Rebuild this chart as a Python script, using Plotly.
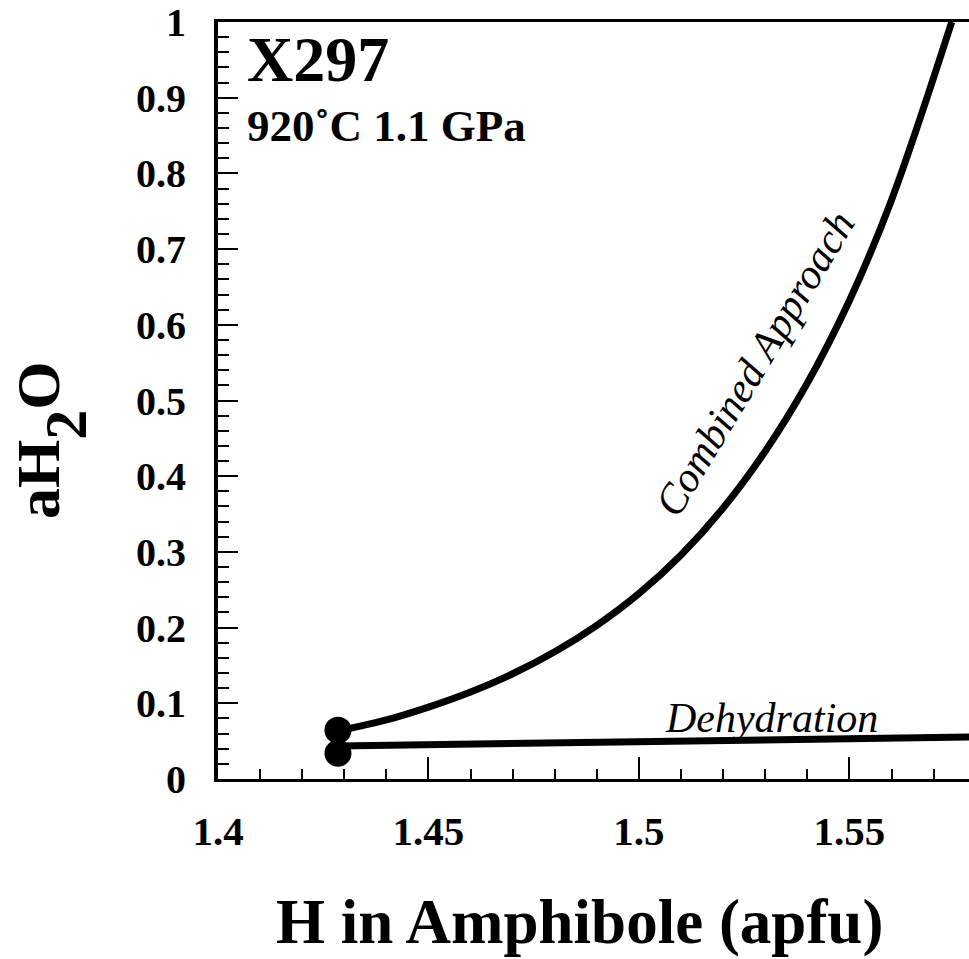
import plotly.graph_objects as go

# Data
combined_x = [1.4285, 1.4400, 1.4500, 1.4600, 1.4700, 1.4800, 1.4900, 1.5000, 1.5100,
              1.5200, 1.5300, 1.5400, 1.5500, 1.5600, 1.5743]
combined_y = [0.0634, 0.0780, 0.0950, 0.1150, 0.1390, 0.1680, 0.2030, 0.2450, 0.2960,
              0.3580, 0.4330, 0.5230, 0.6320, 0.7650, 1.0000]

dehyd_x = [1.4285, 1.4700, 1.5000, 1.5500, 1.5800]
dehyd_y = [0.0436, 0.0470, 0.0490, 0.0530, 0.0557]

dots_x = [1.4285, 1.4285]
dots_y = [0.0645, 0.0340]

x_ticks = [1.4, 1.45, 1.5, 1.55]
x_ticklabels = ["1.4", "1.45", "1.5", "1.55"]
y_ticks = [0, 0.1, 0.2, 0.3, 0.4, 0.5, 0.6, 0.7, 0.8, 0.9, 1.0]
y_ticklabels = ["0", "0.1", "0.2", "0.3", "0.4", "0.5", "0.6", "0.7", "0.8", "0.9", "1"]

SERIF = "Liberation Serif, Times New Roman, serif"

fig = go.Figure()
fig.add_trace(go.Scatter(x=combined_x, y=combined_y, mode="lines",
                         line=dict(color="black", width=7, shape="spline", smoothing=1.0),
                         showlegend=False, hoverinfo="skip"))
fig.add_trace(go.Scatter(x=dehyd_x, y=dehyd_y, mode="lines",
                         line=dict(color="black", width=7),
                         showlegend=False, hoverinfo="skip"))
fig.add_trace(go.Scatter(x=dots_x, y=dots_y, mode="markers",
                         marker=dict(color="black", size=27, symbol="circle"),
                         showlegend=False, hoverinfo="skip", cliponaxis=False))

# In-plot labels
fig.add_annotation(x=0.036, y=0.951, xref="paper", yref="paper",
                   xanchor="left", yanchor="middle", showarrow=False,
                   text="<b>X297</b>", font=dict(family=SERIF, size=64, color="black"))
fig.add_annotation(x=0.036, y=0.862, xref="paper", yref="paper",
                   xanchor="left", yanchor="middle", showarrow=False,
                   text="<b>920˚C 1.1 GPa</b>", font=dict(family=SERIF, size=45, color="black"))
fig.add_annotation(x=1.5275, y=0.548, xref="x", yref="y", showarrow=False,
                   text="<i>Combined Approach</i>", textangle=-59,
                   font=dict(family=SERIF, size=42, color="black"))
fig.add_annotation(x=1.5315, y=0.081, xref="x", yref="y", showarrow=False,
                   text="<i>Dehydration</i>",
                   font=dict(family=SERIF, size=42, color="black"))

# Axis titles
fig.add_annotation(x=0.482, y=-0.189, xref="paper", yref="paper",
                   xanchor="center", yanchor="middle", showarrow=False, borderpad=0,
                   text="<b>H in Amphibole (apfu)</b>", font=dict(family=SERIF, size=63, color="black"))
fig.add_annotation(x=-0.222, y=0.447, xref="paper", yref="paper",
                   xanchor="center", yanchor="middle", showarrow=False, textangle=-90, borderpad=0,
                   text="<b>aH<span style='baseline-shift:-0.45em;font-size:60px'>2</span>O</b>",
                   font=dict(family=SERIF, size=62, color="black"))

fig.update_layout(
    width=969, height=959,
    margin=dict(l=218, r=0, t=22, b=180),
    paper_bgcolor="white", plot_bgcolor="white",
    font=dict(family=SERIF, color="black"),
)
fig.update_xaxes(
    range=[1.4, 1.5784], showgrid=False, zeroline=False,
    showline=True, linecolor="black", linewidth=3, mirror=True,
    tickmode="array", tickvals=x_ticks, ticktext=["<b>%s</b>" % t for t in x_ticklabels],
    ticks="inside", ticklen=22, tickwidth=2, tickcolor="black",
    minor=dict(dtick=0.01, tick0=1.4, ticks="inside", ticklen=10, tickwidth=1.5, tickcolor="black"),
    tickfont=dict(family=SERIF, size=41, color="black"),
    ticklabelstandoff=14,
)
fig.update_yaxes(
    range=[0, 1], showgrid=False, zeroline=False,
    showline=True, linecolor="black", linewidth=4, mirror=False,
    tickmode="array", tickvals=y_ticks, ticktext=["<b>%s</b>" % t for t in y_ticklabels],
    ticks="inside", ticklen=20, tickwidth=2, tickcolor="black",
    minor=dict(dtick=0.02, tick0=0, ticks="inside", ticklen=11, tickwidth=1.5, tickcolor="black"),
    tickfont=dict(family=SERIF, size=40, color="black"),
    ticklabelstandoff=20,
)

fig.write_html("out.html")
